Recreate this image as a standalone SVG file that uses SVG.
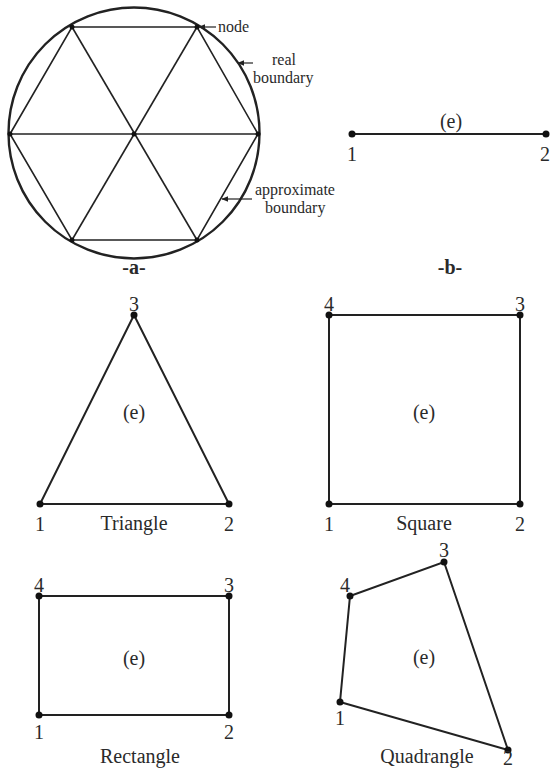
<svg xmlns="http://www.w3.org/2000/svg" width="551" height="769" viewBox="0 0 551 769">
<defs>
<style>
.t{font-family:"Liberation Serif","DejaVu Serif",serif;fill:#2a2a2a}
.s{font-size:16px}
.n{font-size:20px}
.b{font-size:20px;font-weight:bold}
.e{fill:none;stroke:#222;stroke-width:2}
.m{fill:none;stroke:#222;stroke-width:1.6}
.d{fill:#111}
.a{stroke:#222;stroke-width:1.2;fill:none}
</style>
<marker id="ah" viewBox="0 0 10 10" refX="9" refY="5" markerWidth="7" markerHeight="7" orient="auto" markerUnits="userSpaceOnUse"><path d="M0,1 L10,5 L0,9 Z" fill="#222"/></marker>
</defs>
<rect width="551" height="769" fill="#fff"/>

<g id="panel-a">
<circle cx="134" cy="133" r="125.5" fill="none" stroke="#222" stroke-width="2.4"/>
<polygon class="m" points="10,134 72,27 197,27 258,134 197,240 72,240"/>
<line class="m" x1="10" y1="134" x2="258" y2="134"/>
<line class="m" x1="72" y1="27" x2="197" y2="240"/>
<line class="m" x1="197" y1="27" x2="72" y2="240"/>
<g class="d">
<circle cx="10" cy="134" r="2.5"/><circle cx="72" cy="27" r="2.5"/><circle cx="197" cy="27" r="2.5"/>
<circle cx="258" cy="134" r="2.5"/><circle cx="197" cy="240" r="2.5"/><circle cx="72" cy="240" r="2.5"/>
<circle cx="134" cy="134" r="2.5"/>
</g>
<text class="t b" x="134" y="274" text-anchor="middle" font-family="Liberation Serif, serif">-a-</text>
</g>

<g id="labels-a">
<text class="t s" x="218" y="32" font-family="Liberation Serif, serif">node</text>
<text class="t s" x="284" y="65" text-anchor="middle" font-family="Liberation Serif, serif">real</text>
<text class="t s" x="253" y="83" font-family="Liberation Serif, serif">boundary</text>
<text class="t s" x="255" y="195" font-family="Liberation Serif, serif">approximate</text>
<text class="t s" x="265" y="213" font-family="Liberation Serif, serif">boundary</text>
</g>

<g id="panel-b">
<line class="e" x1="352" y1="134" x2="546" y2="134"/>
<circle class="d" cx="352" cy="134" r="3.5"/>
<circle class="d" cx="546" cy="134" r="3.5"/>
<text class="t n" x="451" y="128" text-anchor="middle" font-family="Liberation Serif, serif">(e)</text>
<text class="t n" x="352" y="161" text-anchor="middle" font-family="Liberation Serif, serif">1</text>
<text class="t n" x="545" y="161" text-anchor="middle" font-family="Liberation Serif, serif">2</text>
<text class="t b" x="450" y="274" text-anchor="middle" font-family="Liberation Serif, serif">-b-</text>
</g>

<g id="triangle">
<polygon class="e" points="40,504 229,504 134,315"/>
<circle class="d" cx="40" cy="504" r="3.5"/>
<circle class="d" cx="229" cy="504" r="3.5"/>
<circle class="d" cx="134" cy="315" r="3.5"/>
<text class="t n" x="134" y="311" text-anchor="middle" font-family="Liberation Serif, serif">3</text>
<text class="t n" x="134" y="419" text-anchor="middle" font-family="Liberation Serif, serif">(e)</text>
<text class="t n" x="40" y="531" text-anchor="middle" font-family="Liberation Serif, serif">1</text>
<text class="t n" x="229" y="531" text-anchor="middle" font-family="Liberation Serif, serif">2</text>
<text class="t n" x="134" y="530" text-anchor="middle" font-family="Liberation Serif, serif">Triangle</text>
</g>

<g id="square">
<polygon class="e" points="329,504 520,504 520,315 329,315"/>
<circle class="d" cx="329" cy="504" r="3.5"/>
<circle class="d" cx="520" cy="504" r="3.5"/>
<circle class="d" cx="520" cy="315" r="3.5"/>
<circle class="d" cx="329" cy="315" r="3.5"/>
<text class="t n" x="329" y="311" text-anchor="middle" font-family="Liberation Serif, serif">4</text>
<text class="t n" x="520" y="311" text-anchor="middle" font-family="Liberation Serif, serif">3</text>
<text class="t n" x="424" y="419" text-anchor="middle" font-family="Liberation Serif, serif">(e)</text>
<text class="t n" x="329" y="531" text-anchor="middle" font-family="Liberation Serif, serif">1</text>
<text class="t n" x="520" y="531" text-anchor="middle" font-family="Liberation Serif, serif">2</text>
<text class="t n" x="424" y="530" text-anchor="middle" font-family="Liberation Serif, serif">Square</text>
</g>

<g id="rectangle">
<polygon class="e" points="39,715 229,715 229,596 39,596"/>
<circle class="d" cx="39" cy="715" r="3.5"/>
<circle class="d" cx="229" cy="715" r="3.5"/>
<circle class="d" cx="229" cy="596" r="3.5"/>
<circle class="d" cx="39" cy="596" r="3.5"/>
<text class="t n" x="39" y="592" text-anchor="middle" font-family="Liberation Serif, serif">4</text>
<text class="t n" x="229" y="592" text-anchor="middle" font-family="Liberation Serif, serif">3</text>
<text class="t n" x="134" y="665" text-anchor="middle" font-family="Liberation Serif, serif">(e)</text>
<text class="t n" x="39" y="739" text-anchor="middle" font-family="Liberation Serif, serif">1</text>
<text class="t n" x="229" y="739" text-anchor="middle" font-family="Liberation Serif, serif">2</text>
<text class="t n" x="140" y="763" text-anchor="middle" font-family="Liberation Serif, serif">Rectangle</text>
</g>

<g id="quadrangle">
<polygon class="e" points="340,702 508,750 444,562 350,596"/>
<circle class="d" cx="340" cy="702" r="3.5"/>
<circle class="d" cx="508" cy="750" r="3.5"/>
<circle class="d" cx="444" cy="562" r="3.5"/>
<circle class="d" cx="350" cy="596" r="3.5"/>
<text class="t n" x="345" y="592" text-anchor="middle" font-family="Liberation Serif, serif">4</text>
<text class="t n" x="444" y="557" text-anchor="middle" font-family="Liberation Serif, serif">3</text>
<text class="t n" x="424" y="664" text-anchor="middle" font-family="Liberation Serif, serif">(e)</text>
<text class="t n" x="340" y="725" text-anchor="middle" font-family="Liberation Serif, serif">1</text>
<text class="t n" x="508" y="765" text-anchor="middle" font-family="Liberation Serif, serif">2</text>
<text class="t n" x="427" y="763" text-anchor="middle" font-family="Liberation Serif, serif">Quadrangle</text>
</g>

<g id="connectors">
<line class="a" x1="216" y1="27" x2="199" y2="27" marker-end="url(#ah)"/>
<line class="a" x1="253" y1="63" x2="238" y2="63" marker-end="url(#ah)"/>
<line class="a" x1="252" y1="199" x2="222" y2="199" marker-end="url(#ah)"/>
</g>
</svg>
